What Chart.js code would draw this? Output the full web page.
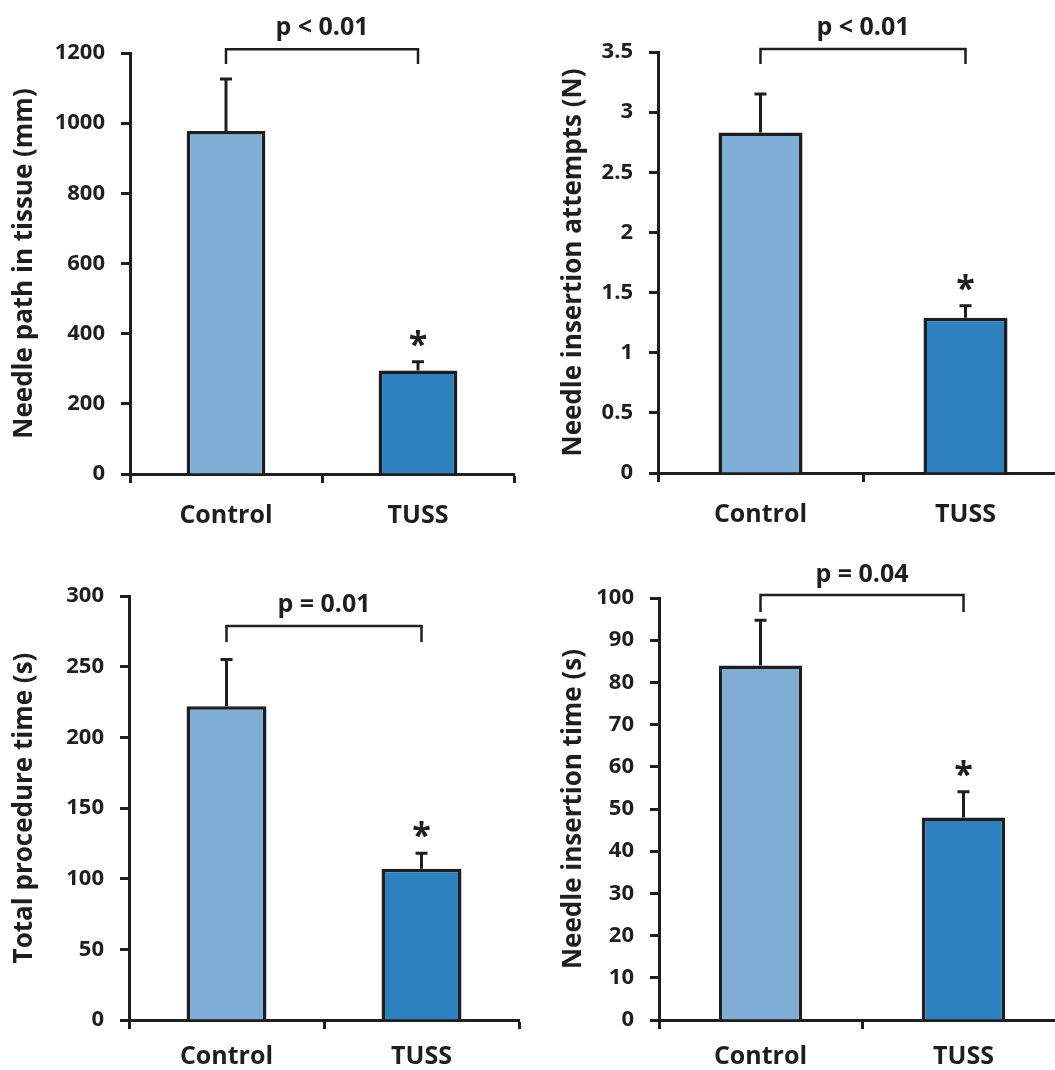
<!DOCTYPE html>
<html>
<head>
<meta charset="utf-8">
<script src="https://cdn.jsdelivr.net/npm/chart.js@4.4.1/dist/chart.umd.min.js"></script>
<style>
  html, body { margin: 0; padding: 0; background: #fff; overflow: hidden; width: 1055px; height: 1070px; }
  canvas { position: absolute; }
</style>
</head>
<body>
<canvas id="c1" width="527" height="535" style="left:0;top:0"></canvas>
<canvas id="c2" width="545" height="535" style="left:530px;top:0"></canvas>
<canvas id="c3" width="527" height="540" style="left:0;top:530px"></canvas>
<canvas id="c4" width="545" height="540" style="left:530px;top:530px"></canvas>
<script>
// data (mean and upper error)
const categories = ['Control', 'TUSS'];

const pathMeans = [978, 295];
const pathErrs = [148, 25];

const attemptMeans = [2.83, 1.29];
const attemptErrs = [0.32, 0.10];

const procMeans = [222, 107];
const procErrs = [33, 11];

const insertMeans = [84, 48];
const insertErrs = [10.7, 6.1];

const yTitles = ['Needle path in tissue (mm)', 'Needle insertion attempts (N)',
                 'Total procedure time (s)', 'Needle insertion time (s)'];
const pTexts = ['p < 0.01', 'p < 0.01', 'p = 0.01', 'p = 0.04'];
const yMaxes = [1200, 3.5, 300, 100];
const ySteps = [200, 0.5, 50, 10];

const ink = '#1e1e1e';
const fontName = '"Open Sans", Lato, sans-serif';
const barColors = ['#7eaed4', '#2d81be'];
Chart.defaults.font.family = fontName;
Chart.defaults.color = ink;

const extras = {
    id: 'extras',
    afterDatasetsDraw(chart, args, o) {
        const ctx = chart.ctx;
        const y = chart.scales.y;
        const bars = chart.getDatasetMeta(0).data;
        ctx.save();
        ctx.strokeStyle = ink;
        ctx.fillStyle = ink;
        ctx.lineWidth = 3;
        bars.forEach((b, i) => {
            const top = y.getPixelForValue(o.means[i] + o.errs[i]);
            ctx.beginPath();
            ctx.moveTo(b.x, b.y);
            ctx.lineTo(b.x, top);
            ctx.moveTo(b.x - 6, top);
            ctx.lineTo(b.x + 6, top);
            ctx.stroke();
        });
        // significance star over TUSS
        const capY = y.getPixelForValue(o.means[1] + o.errs[1]);
        ctx.font = 'bold 34px ' + fontName;
        ctx.textAlign = 'center';
        ctx.textBaseline = 'alphabetic';
        ctx.fillText('*', bars[1].x, capY - 6);
        // bracket with p value
        const yb = y.getPixelForValue(o.bracket[0]);
        const yl = y.getPixelForValue(o.bracket[1]);
        ctx.lineWidth = 2.5;
        ctx.beginPath();
        ctx.moveTo(bars[0].x, yl);
        ctx.lineTo(bars[0].x, yb);
        ctx.lineTo(bars[1].x, yb);
        ctx.lineTo(bars[1].x, yl);
        ctx.stroke();
        ctx.font = 'bold 25px ' + fontName;
        ctx.textBaseline = 'middle';
        ctx.fillText(o.pText, (bars[0].x + bars[1].x) / 2, y.getPixelForValue(o.bracket[2]));
        ctx.restore();
    }
};

function makeChart(id, k, means, errs, lay) {
    return new Chart(document.getElementById(id).getContext('2d'), {
        type: 'bar',
        data: {
            labels: categories,
            datasets: [{
                data: means,
                backgroundColor: barColors,
                borderColor: ink,
                borderWidth: 3.5,
                categoryPercentage: 1,
                barPercentage: 0.41
            }]
        },
        options: {
            responsive: false,
            animation: false,
            layout: { padding: { top: lay.top, right: lay.right, left: 0, bottom: 0 } },
            plugins: {
                legend: { display: false },
                tooltip: { enabled: false },
                extras: { means: means, errs: errs, bracket: lay.bracket, pText: pTexts[k] }
            },
            scales: {
                x: {
                    afterFit: s => { s.height = lay.xh; },
                    grid: { offset: true, drawOnChartArea: false, drawTicks: true, tickLength: 9, tickWidth: 3, tickColor: ink },
                    border: { display: true, color: ink, width: 3 },
                    ticks: { padding: lay.xpad, font: { size: 25, weight: 'bold' }, color: ink }
                },
                y: {
                    min: 0,
                    max: yMaxes[k],
                    afterFit: s => { s.width = lay.yw; },
                    grid: { drawOnChartArea: false, drawTicks: true, tickLength: 9, tickWidth: 3, tickColor: ink },
                    border: { display: true, color: ink, width: 3 },
                    ticks: { stepSize: ySteps[k], padding: 16, font: { size: 22, weight: 'bold' }, color: ink,
                             callback: v => String(v) },
                    title: { display: true, text: yTitles[k], font: { size: 26, weight: 'bold' }, color: ink,
                             padding: { top: lay.tpad, bottom: 0 } }
                }
            }
        },
        plugins: [extras]
    });
}

makeChart('c1', 0, pathMeans, pathErrs,
    { top: 53, right: 13, yw: 130, xh: 61, xpad: 18, tpad: 9, bracket: [1211, 1169, 1272] });
makeChart('c2', 1, attemptMeans, attemptErrs,
    { top: 52, right: 7, yw: 128, xh: 62, xpad: 18, tpad: 28, bracket: [3.525, 3.40, 3.70] });
makeChart('c3', 2, procMeans, procErrs,
    { top: 66, right: 8, yw: 129, xh: 50, xpad: 13, tpad: 9, bracket: [278.7, 267.4, 293.6] });
makeChart('c4', 3, insertMeans, insertErrs,
    { top: 68, right: 10, yw: 129, xh: 50, xpad: 13, tpad: 28, bracket: [100.7, 96.7, 105.4] });
</script>
</body>
</html>
